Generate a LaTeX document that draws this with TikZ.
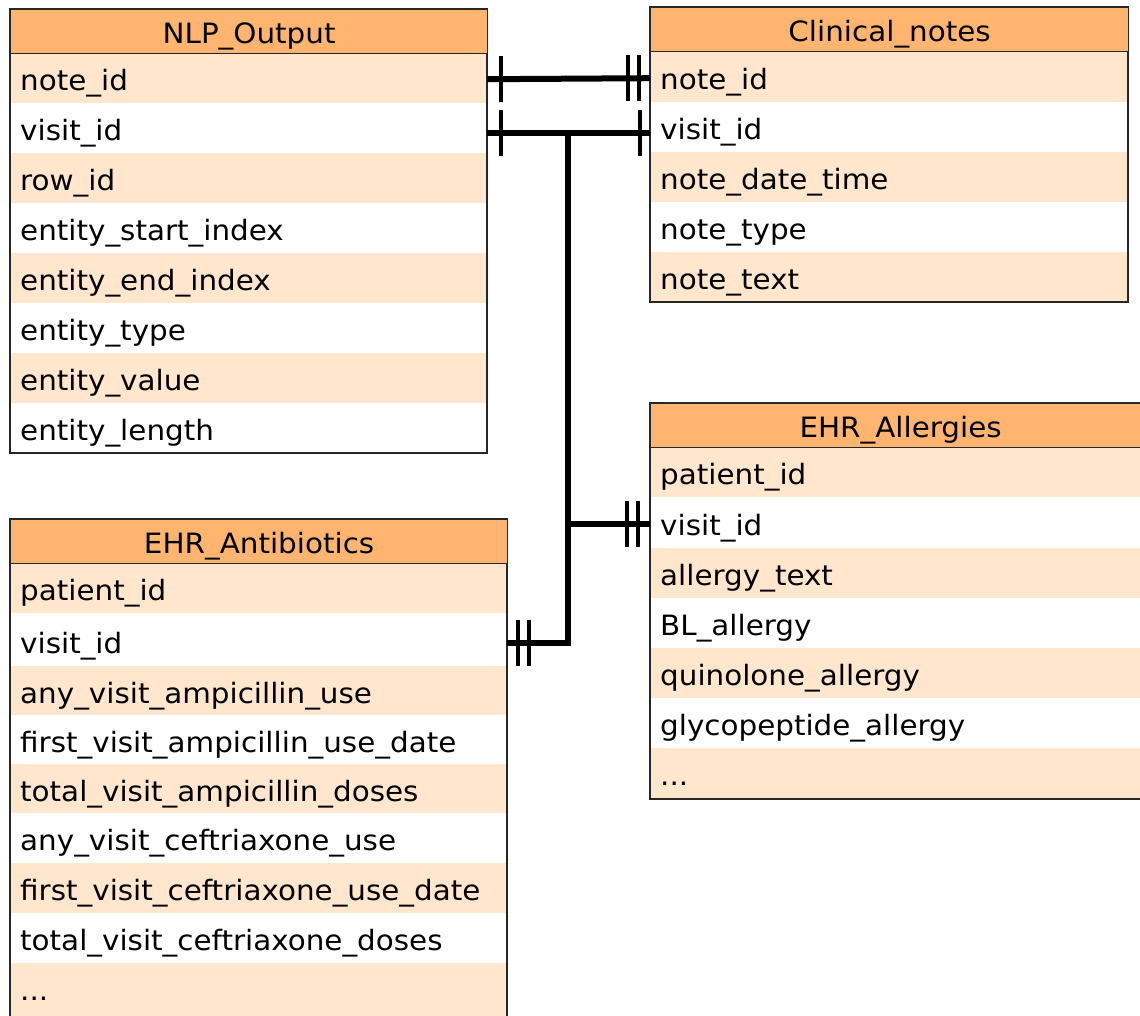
\documentclass[tikz,border=0pt]{standalone}
\usepackage{fontspec}
\setmainfont[FakeStretch=1.05]{DejaVu Sans}
\definecolor{hdrfill}{HTML}{FFB570}
\definecolor{rowfill}{HTML}{FFE6CC}
\tikzset{
  tbltitle/.style={draw=black!85, line width=1.2pt, fill=hdrfill, anchor=north west,
    minimum height=44pt, inner sep=0pt, text height=25pt, text depth=1pt,
    font=\fontsize{28}{30}\selectfont},
  fieldrow/.style={anchor=north west, minimum height=50pt, inner xsep=10pt, inner ysep=0pt,
    text height=25pt, text depth=1pt, align=left, font=\fontsize{28}{30}\selectfont},
  shaded/.style={fieldrow, fill=rowfill},
  plain/.style={fieldrow, fill=white},
  frame/.style={draw=black!85, line width=1.2pt},
  link/.style={line width=6pt},
  bar/.style={line width=4pt},
}
\begin{document}
\begin{tikzpicture}[x=1pt, y=-1pt]
\useasboundingbox (0,0) rectangle (1140,1015);
\clip (0,0) rectangle (1140,1015);
\fill[white] (0,0) rectangle (1140,1015);

% ---------- NLP_Output ----------
\begin{scope}[every node/.append style={minimum width=477pt, text width=457pt}]
\node[shaded] (nlp-note)  at (10,53)  {note\_id};
\node[plain]  (nlp-visit) at (10,103) {visit\_id};
\node[shaded] (nlp-row)   at (10,153) {row\_id};
\node[plain]  (nlp-start) at (10,203) {entity\_start\_index};
\node[shaded] (nlp-end)   at (10,253) {entity\_end\_index};
\node[plain]  (nlp-type)  at (10,303) {entity\_type};
\node[shaded] (nlp-value) at (10,353) {entity\_value};
\node[plain]  (nlp-len)   at (10,403) {entity\_length};
\end{scope}
\draw[frame] (10,9) rectangle (487,453);
\node[tbltitle, minimum width=477pt] (nlp) at (10,9) {NLP\_Output};

% ---------- Clinical_notes ----------
\begin{scope}[every node/.append style={minimum width=478pt, text width=458pt}]
\node[shaded] (cn-note)  at (650,52)  {note\_id};
\node[plain]  (cn-visit) at (650,102) {visit\_id};
\node[shaded] (cn-date)  at (650,152) {note\_date\_time};
\node[plain]  (cn-type)  at (650,202) {note\_type};
\node[shaded] (cn-text)  at (650,252) {note\_text};
\end{scope}
\draw[frame] (650,7) rectangle (1128,302);
\node[tbltitle, minimum width=478pt] (cn) at (650,7) {Clinical\_notes};

% ---------- EHR_Allergies ----------
\begin{scope}[every node/.append style={minimum width=500pt, text width=480pt}]
\node[shaded] (al-patient) at (650,447) {patient\_id};
\node[plain]  (al-visit)   at (650,498) {visit\_id};
\node[shaded] (al-text)    at (650,548) {allergy\_text};
\node[plain]  (al-bl)      at (650,598) {BL\_allergy};
\node[shaded] (al-quin)    at (650,648) {quinolone\_allergy};
\node[plain]  (al-glyco)   at (650,698) {glycopeptide\_allergy};
\node[shaded] (al-more)    at (650,748) {...};
\end{scope}
\draw[frame] (650,403) rectangle (1150,799);
\node[tbltitle, minimum width=500pt] (al) at (650,403) {EHR\_Allergies};

% ---------- EHR_Antibiotics ----------
\begin{scope}[every node/.append style={minimum width=497pt, text width=477pt}]
\node[shaded] (ab-patient) at (10,563) {patient\_id};
\node[plain]  (ab-visit)   at (10,616) {visit\_id};
\node[shaded] (ab-amp)     at (10,666) {any\_visit\_ampicillin\_use};
\node[plain]  (ab-ampdate) at (10,715) {first\_visit\_ampicillin\_use\_date};
\node[shaded] (ab-ampdose) at (10,764) {total\_visit\_ampicillin\_doses};
\node[plain]  (ab-cef)     at (10,813) {any\_visit\_ceftriaxone\_use};
\node[shaded] (ab-cefdate) at (10,863) {first\_visit\_ceftriaxone\_use\_date};
\node[plain]  (ab-cefdose) at (10,913) {total\_visit\_ceftriaxone\_doses};
\node[shaded, minimum height=68pt, text depth=19pt] (ab-more) at (10,963) {...};
\end{scope}
\draw[frame] (10,519) rectangle (507,1030);
\node[tbltitle, minimum width=497pt] (ab) at (10,519) {EHR\_Antibiotics};

% ---------- relationships ----------
% note_id: one to mandatory one
\draw[link] ([yshift=-1pt]nlp-note.east) -- ([yshift=-1pt]cn-note.west);
\draw[bar] ([xshift=14pt,yshift=-1pt]nlp-note.east) ++(0,-23) -- ++(0,46);
\draw[bar] ([xshift=-22pt,yshift=-1pt]cn-note.west) ++(0,-23) -- ++(0,46);
\draw[bar] ([xshift=-11pt,yshift=-1pt]cn-note.west) ++(0,-23) -- ++(0,46);

% visit_id shared across four tables
\coordinate (hub) at (568,133);
\draw[link] ([yshift=-5pt]nlp-visit.east) -- ([yshift=-6pt]cn-visit.west);
\draw[bar] ([xshift=14pt,yshift=-5pt]nlp-visit.east) ++(0,-23) -- ++(0,46);
\draw[bar] ([xshift=-10pt,yshift=-6pt]cn-visit.west) ++(0,-23) -- ++(0,46);

\draw[link, line join=miter] ([yshift=-2pt]ab-visit.east) -| (hub);
\draw[bar] ([xshift=11pt,yshift=-2pt]ab-visit.east) ++(0,-23) -- ++(0,46);
\draw[bar] ([xshift=22pt,yshift=-2pt]ab-visit.east) ++(0,-23) -- ++(0,46);

\draw[link] ([yshift=-1pt]al-visit.west) -| (hub);
\draw[bar] ([xshift=-23pt,yshift=-1pt]al-visit.west) ++(0,-23) -- ++(0,46);
\draw[bar] ([xshift=-12pt,yshift=-1pt]al-visit.west) ++(0,-23) -- ++(0,46);
\end{tikzpicture}
\end{document}
